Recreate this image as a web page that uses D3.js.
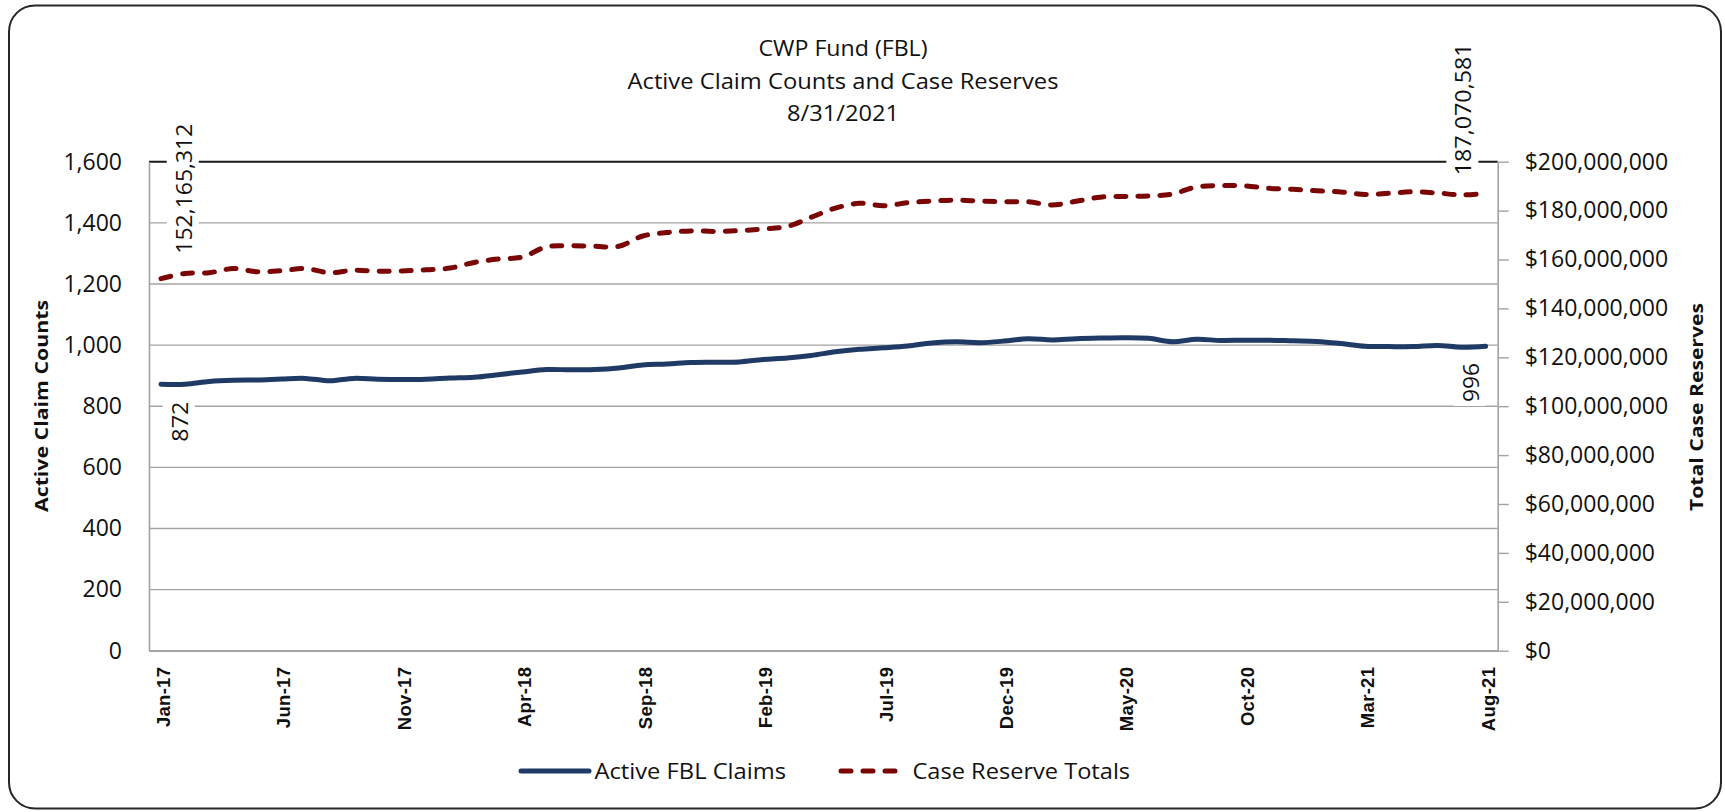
<!DOCTYPE html>
<html>
<head>
<meta charset="utf-8">
<script src="https://d3js.org/d3.v7.min.js"></script>
<style>
	html, body { margin: 0; padding: 0; background: #fff; }
	svg { display: block; }
	text { fill: #111; }
</style>
</head>
<body>
<svg id="chart" width="1725" height="812"></svg>
<script>

var months = ['Jan-17','Feb-17','Mar-17','Apr-17','May-17','Jun-17','Jul-17','Aug-17','Sep-17','Oct-17','Nov-17','Dec-17',
	'Jan-18','Feb-18','Mar-18','Apr-18','May-18','Jun-18','Jul-18','Aug-18','Sep-18','Oct-18','Nov-18','Dec-18',
	'Jan-19','Feb-19','Mar-19','Apr-19','May-19','Jun-19','Jul-19','Aug-19','Sep-19','Oct-19','Nov-19','Dec-19',
	'Jan-20','Feb-20','Mar-20','Apr-20','May-20','Jun-20','Jul-20','Aug-20','Sep-20','Oct-20','Nov-20','Dec-20',
	'Jan-21','Feb-21','Mar-21','Apr-21','May-21','Jun-21','Jul-21','Aug-21'];

var tickLabels = ['Jan-17','Jun-17','Nov-17','Apr-18','Sep-18','Feb-19','Jul-19','Dec-19','May-20','Oct-20','Mar-21','Aug-21'];

// active FBL claims (left axis)
var claims = [872, 872, 881, 885, 886, 889, 891, 883, 891, 888,
	887, 888, 892, 895, 903, 912, 920, 919, 920, 925,
	935, 938, 943, 944, 945, 953, 958, 966, 978, 986,
	991, 997, 1007, 1011, 1008, 1013, 1021, 1017, 1021, 1023,
	1024, 1022, 1011, 1019, 1015, 1016, 1016, 1014, 1012, 1005,
	996, 995, 995, 999, 993, 996];

// case reserve totals (right axis)
var reserves = [152165312, 154300000, 154600000, 156300000, 155000000, 155400000, 156300000, 154600000, 155600000, 155200000,
	155300000, 155800000, 156500000, 158800000, 160200000, 161000000, 165200000, 165600000, 165400000, 165400000,
	169600000, 171000000, 171700000, 171500000, 171800000, 172500000, 173500000, 177300000, 181000000, 183000000,
	182000000, 183200000, 183900000, 184300000, 183900000, 183600000, 183600000, 182300000, 183800000, 185500000,
	185800000, 186000000, 186800000, 189700000, 190200000, 190100000, 189100000, 188700000, 188100000, 187600000,
	186600000, 187100000, 187700000, 187200000, 186400000, 187070581];

var leftTicks = [0, 200, 400, 600, 800, 1000, 1200, 1400, 1600];
var rightTicks = [0, 20e6, 40e6, 60e6, 80e6, 100e6, 120e6, 140e6, 160e6, 180e6, 200e6];

var titleLines = ['CWP Fund (FBL)', 'Active Claim Counts and Case Reserves', '8/31/2021'];
var seriesNames = ['Active FBL Claims', 'Case Reserve Totals'];

var BLUE = '#1f3a64';
var RED = '#7a0606';
var GRID = '#a3a3a3';
var FONT = '"Open Sans", "Noto Sans", sans-serif';

var svg = d3.select('#chart');
var pLeft = 149, pRight = 1497.7, pTop = 161.7, pBottom = 650.7;

svg.append('rect').attr('x', 9).attr('y', 5.5).attr('width', 1712).attr('height', 803)
	.attr('rx', 26).attr('ry', 26).attr('fill', '#fff').attr('stroke', '#262626').attr('stroke-width', 2);

// layers, back to front
var gGrid = svg.append('g');
var gAxes = svg.append('g');
var gBoxes = svg.append('g');
var gSeries = svg.append('g');
var gLabels = svg.append('g');
var gText = svg.append('g');

var x = d3.scalePoint().domain(months).range([pLeft, pRight]).padding(0.5);
var yL = d3.scaleLinear().domain([0, 1600]).range([pBottom, pTop]);
var yR = d3.scaleLinear().domain([0, 200e6]).range([pBottom, pTop]);

// title
gText.append('g').selectAll('text').data(titleLines).join('text')
	.attr('x', 843)
	.attr('y', function(d, i) { return 56 + i * 32.5; })
	.attr('text-anchor', 'middle')
	.style('font-family', FONT).style('font-size', '22.5px')
	.attr('textLength', function(d, i) { return [169, 431, 112][i]; })
	.attr('lengthAdjust', 'spacingAndGlyphs')
	.text(function(d) { return d; });

// gridlines
gGrid.selectAll('line').data(leftTicks).join('line')
	.attr('x1', pLeft).attr('x2', pRight)
	.attr('y1', function(d) { return yL(d); }).attr('y2', function(d) { return yL(d); })
	.attr('stroke', function(d) { return d === 1600 ? '#1a1a1a' : GRID; })
	.attr('stroke-width', function(d) { return d === 1600 ? 2 : 1.4; });

// axes
var axL = gAxes.append('g').attr('transform', 'translate(' + pLeft + ',0)')
	.call(d3.axisLeft(yL).tickValues(leftTicks).tickSize(0).tickPadding(27).tickFormat(d3.format(',')));
var axR = gAxes.append('g').attr('transform', 'translate(' + pRight + ',0)')
	.call(d3.axisRight(yR).tickValues(rightTicks).tickSize(11).tickSizeOuter(0).tickPadding(16)
		.tickFormat(function(d) { return '$' + d3.format(',')(d); }));
var axB = gAxes.append('g').attr('transform', 'translate(0,' + pBottom + ')')
	.call(d3.axisBottom(x).tickValues(tickLabels).tickSize(0).tickSizeOuter(0));

[axL, axR, axB].forEach(function(ax) {
	ax.select('.domain').attr('stroke', GRID).attr('stroke-width', 1.6);
	ax.selectAll('.tick line').attr('stroke', GRID).attr('stroke-width', 1.4);
	ax.selectAll('.tick text').attr('fill', '#111').style('font-family', FONT).style('font-size', '23px');
});

axB.selectAll('.tick text')
	.attr('transform', 'rotate(-90)')
	.attr('x', -16).attr('y', 2).attr('dy', '0.35em')
	.attr('text-anchor', 'end')
	.style('font-family', '"Liberation Sans", Arial, sans-serif')
	.style('font-size', '18.5px').style('font-weight', 'bold').style('letter-spacing', '0.3px');

// axis titles
gText.append('text')
	.attr('transform', 'translate(48,406) rotate(-90)')
	.attr('text-anchor', 'middle')
	.style('font-family', FONT).style('font-size', '18.5px').style('font-weight', 'bold')
	.attr('textLength', 212).attr('lengthAdjust', 'spacingAndGlyphs')
	.text('Active Claim Counts');
gText.append('text')
	.attr('transform', 'translate(1703,407) rotate(-90)')
	.attr('text-anchor', 'middle')
	.style('font-family', FONT).style('font-size', '18.5px').style('font-weight', 'bold')
	.attr('textLength', 208).attr('lengthAdjust', 'spacingAndGlyphs')
	.text('Total Case Reserves');

// series lines
var lineL = d3.line().x(function(d, i) { return x(months[i]); }).y(function(d) { return yL(d); }).curve(d3.curveCatmullRom.alpha(0.5));
var lineR = d3.line().x(function(d, i) { return x(months[i]); }).y(function(d) { return yR(d); }).curve(d3.curveCatmullRom.alpha(0.5));

gSeries.append('path').datum(claims).attr('d', lineL)
	.attr('fill', 'none').attr('stroke', BLUE).attr('stroke-width', 5).attr('stroke-linejoin', 'round').attr('stroke-linecap', 'round');
gSeries.append('path').datum(reserves).attr('d', lineR)
	.attr('fill', 'none').attr('stroke', RED).attr('stroke-width', 5).attr('stroke-dasharray', '10,12').attr('stroke-linecap', 'round');

// data labels (first / last points), white boxes cut the gridlines
var fmt = d3.format(',');
var labels = [
	{ i: 0, y: yR(reserves[0]), dx: 25, dy: 23, anchor: 'start', len: 130, txt: fmt(reserves[0]) },
	{ i: 55, y: yR(reserves[55]), dx: 18, dy: -22, anchor: 'start', len: 132, txt: fmt(reserves[55]) },
	{ i: 0, y: yL(claims[0]), dx: -17.5, dy: 19, anchor: 'end', len: 40, txt: fmt(claims[0]) },
	{ i: 55, y: yL(claims[55]), dx: -16.7, dy: -14.5, anchor: 'end', len: 39, txt: fmt(claims[55]) }
];

function place(d) { return 'translate(' + x(months[d.i]) + ',' + d.y + ') rotate(-90)'; }

var labText = gLabels.selectAll('text').data(labels).join('text')
	.attr('transform', place)
	.attr('x', function(d) { return d.dx; })
	.attr('y', function(d) { return d.dy; })
	.attr('dy', '0.35em')
	.attr('text-anchor', function(d) { return d.anchor; })
	.style('font-family', FONT).style('font-size', '22px')
	.attr('textLength', function(d) { return d.len; }).attr('lengthAdjust', 'spacingAndGlyphs')
	.text(function(d) { return d.txt; });

labText.each(function(d) {
	var b = this.getBBox();
	gBoxes.append('rect').attr('transform', place(d))
		.attr('x', b.x - 4).attr('y', b.y - 1).attr('width', b.width + 8).attr('height', b.height + 2)
		.attr('fill', '#fff');
});

// legend
var legend = gText.append('g');
legend.append('line').attr('x1', 521).attr('x2', 589).attr('y1', 771).attr('y2', 771)
	.attr('stroke', BLUE).attr('stroke-width', 5).attr('stroke-linecap', 'round');
legend.append('line').attr('x1', 841).attr('x2', 898).attr('y1', 771).attr('y2', 771)
	.attr('stroke', RED).attr('stroke-width', 5).attr('stroke-dasharray', '10,12').attr('stroke-linecap', 'round');
legend.selectAll('text').data(seriesNames).join('text')
	.attr('x', function(d, i) { return [594.5, 912.5][i]; })
	.attr('y', 779)
	.style('font-family', FONT).style('font-size', '22px')
	.attr('textLength', function(d, i) { return [191.5, 217.6][i]; })
	.attr('lengthAdjust', 'spacingAndGlyphs')
	.text(function(d) { return d; });

</script>
</body>
</html>
